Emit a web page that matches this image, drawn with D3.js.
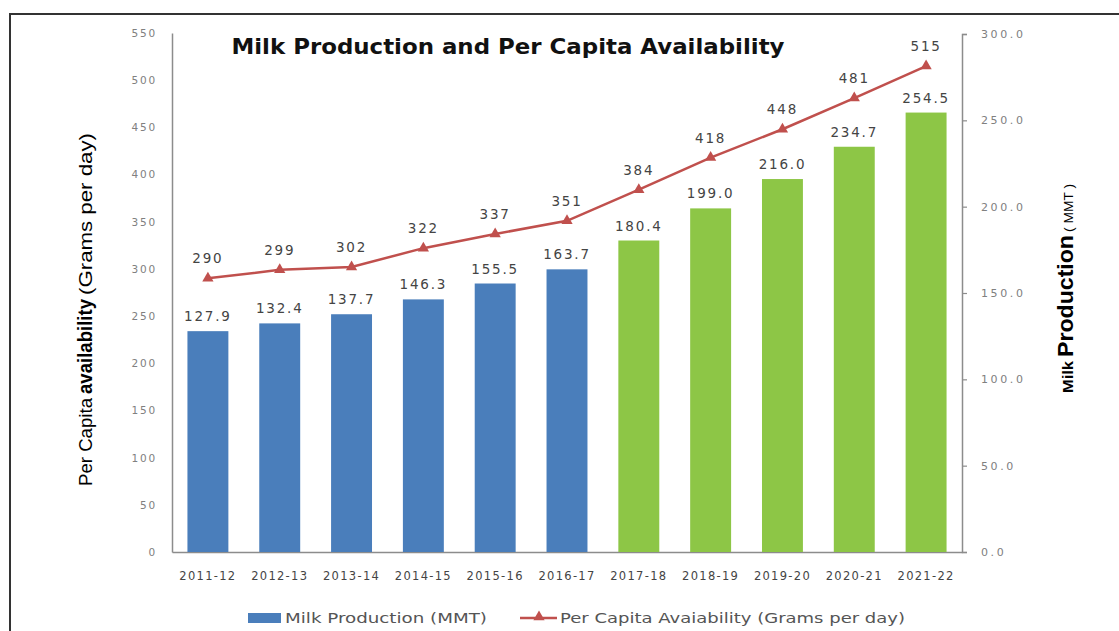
<!DOCTYPE html>
<html>
<head>
<meta charset="utf-8">
<script src="https://cdn.jsdelivr.net/npm/d3@7"></script>
<style>
  html, body { margin: 0; padding: 0; background: #fff; }
  svg { display: block; }
</style>
</head>
<body>
<svg id="chart" width="1119" height="631"></svg>
<script>
// Years, milk production (MMT) and per capita availability (g/day)
const years = ["2011-12","2012-13","2013-14","2014-15","2015-16","2016-17","2017-18","2018-19","2019-20","2020-21","2021-22"];
const production = [127.9, 132.4, 137.7, 146.3, 155.5, 163.7, 180.4, 199.0, 216.0, 234.7, 254.5];
const perCapita = [290, 299, 302, 322, 337, 351, 384, 418, 448, 481, 515];
const leftTicks = [0, 50, 100, 150, 200, 250, 300, 350, 400, 450, 500, 550];
const rightTicks = [0, 50, 100, 150, 200, 250, 300];
const firstGreenYear = "2017-18";

const svg = d3.select("#chart");
const plot = { left: 172, right: 962, top: 33, bottom: 552 };
const blue = "#4a7ebb", green = "#8dc646", red = "#c0504d";
const wide = "DejaVu Sans, Verdana, sans-serif";
const arial = "Liberation Sans, Arial, sans-serif";
const narrow = "Liberation Sans Narrow, Liberation Sans, sans-serif";

// outer frame
svg.append("rect").attr("x", 10).attr("y", 14).attr("width", 1130).attr("height", 640)
  .attr("fill", "none").attr("stroke", "#333").attr("stroke-width", 2);

const x = d3.scaleBand().domain(years).range([plot.left, plot.right]).paddingInner(0.43).paddingOuter(0.215);
const yL = d3.scaleLinear().domain([0, 550]).range([plot.bottom, plot.top]);
const yR = d3.scaleLinear().domain([0, 300]).range([plot.bottom, plot.top + 1]);

// left axis
const gL = svg.append("g").attr("transform", `translate(${plot.left},0)`)
  .call(d3.axisLeft(yL).tickValues(leftTicks).tickSize(0).tickPadding(15));
gL.select(".domain").attr("stroke", "#8c8c8c").attr("stroke-width", 1.5);
gL.selectAll("text").attr("font-family", wide).attr("font-size", 10.5)
  .attr("letter-spacing", 1.8).attr("fill", "#808080");

// right axis
const gR = svg.append("g").attr("transform", `translate(${plot.right},0)`)
  .call(d3.axisRight(yR).tickValues(rightTicks).tickSize(5).tickPadding(14).tickFormat(d3.format(".1f")).tickSizeOuter(5));
gR.select(".domain").attr("stroke", "#8c8c8c").attr("stroke-width", 1.5);
gR.selectAll(".tick line").attr("stroke", "#8c8c8c").attr("stroke-width", 1.2);
gR.selectAll("text").attr("font-family", wide).attr("font-size", 11)
  .attr("letter-spacing", 2.6).attr("fill", "#808080");

// bottom axis
const gB = svg.append("g").attr("transform", `translate(0,${plot.bottom})`)
  .call(d3.axisBottom(x).tickSize(0).tickPadding(20));
gB.select(".domain").attr("stroke", "#8c8c8c").attr("stroke-width", 1.5);
gB.selectAll("text").attr("font-family", wide).attr("font-size", 11.5)
  .attr("letter-spacing", 1.3).attr("fill", "#444");

// bars (right axis)
const greenStart = years.indexOf(firstGreenYear);
svg.append("g").selectAll("rect").data(production).join("rect")
  .attr("x", (d, i) => x(years[i]))
  .attr("y", d => yR(d))
  .attr("width", x.bandwidth())
  .attr("height", d => plot.bottom - yR(d))
  .attr("fill", (d, i) => i >= greenStart ? green : blue);

svg.append("g").selectAll("text").data(production).join("text")
  .attr("x", (d, i) => x(years[i]) + x.bandwidth() / 2)
  .attr("y", d => yR(d) - 10)
  .attr("text-anchor", "middle")
  .attr("font-family", wide).attr("font-size", 13.5).attr("letter-spacing", 1.8).attr("fill", "#444")
  .text(d => d3.format(".1f")(d));

// per capita line (left axis)
const cx = (i) => x(years[i]) + x.bandwidth() / 2;
const line = d3.line().x((d, i) => cx(i)).y(d => yL(d));
svg.append("path").datum(perCapita).attr("d", line)
  .attr("fill", "none").attr("stroke", red).attr("stroke-width", 2.5);

const tri = d3.symbol().type(d3.symbolTriangle).size(55);
svg.append("g").selectAll("path").data(perCapita).join("path")
  .attr("d", tri)
  .attr("transform", (d, i) => `translate(${cx(i)},${yL(d)})`)
  .attr("fill", red);

svg.append("g").selectAll("text").data(perCapita).join("text")
  .attr("x", (d, i) => cx(i))
  .attr("y", d => yL(d) - 15)
  .attr("text-anchor", "middle")
  .attr("font-family", wide).attr("font-size", 13.5).attr("letter-spacing", 1.8).attr("fill", "#444")
  .text(d => d);

// title
svg.append("text").attr("x", 508).attr("y", 54).attr("text-anchor", "middle")
  .attr("font-family", wide).attr("font-weight", "bold").attr("font-size", 21.5).attr("fill", "#111")
  .attr("textLength", 553).attr("lengthAdjust", "spacingAndGlyphs")
  .text("Milk Production and Per Capita Availability");

// rotated axis titles, each piece laid out along the vertical
function verticalTitle(xBase, pieces) {
  const g = svg.append("g").attr("transform", `translate(${xBase},0) rotate(-90)`);
  pieces.forEach(p => {
    g.append("text").attr("x", -p.from).attr("y", 0)
      .attr("font-family", p.family).attr("font-size", p.size)
      .attr("font-weight", p.bold ? "bold" : "normal").attr("fill", "#000")
      .attr("textLength", p.from - p.to).attr("lengthAdjust", "spacingAndGlyphs")
      .text(p.text);
  });
}

verticalTitle(92, [
  { text: "Per Capita", from: 486, to: 398, size: 18.5, family: arial },
  { text: "availability", from: 394, to: 299, size: 20, family: narrow, bold: true },
  { text: "(Grams per day)", from: 295, to: 133, size: 18.5, family: arial }
]);

verticalTitle(1073, [
  { text: "Milk", from: 393, to: 361, size: 15, family: narrow, bold: true },
  { text: "Production", from: 357, to: 235, size: 22, family: arial, bold: true },
  { text: "( MMT )", from: 232, to: 184, size: 13.5, family: narrow }
]);

// legend
const lg = svg.append("g").attr("font-family", wide).attr("font-size", 14.5).attr("fill", "#555");
lg.append("rect").attr("x", 248).attr("y", 613).attr("width", 33).attr("height", 10).attr("fill", blue);
lg.append("text").attr("x", 285).attr("y", 623).attr("fill", "#555")
  .attr("textLength", 202).attr("lengthAdjust", "spacingAndGlyphs").text("Milk Production (MMT)");
lg.append("line").attr("x1", 520).attr("x2", 557).attr("y1", 618).attr("y2", 618).attr("stroke", red).attr("stroke-width", 2.5);
lg.append("path").attr("d", tri).attr("transform", "translate(539,617)").attr("fill", red);
lg.append("text").attr("x", 560).attr("y", 623).attr("fill", "#555")
  .attr("textLength", 345).attr("lengthAdjust", "spacingAndGlyphs").text("Per Capita Avaiability  (Grams per day)");
</script>
</body>
</html>
